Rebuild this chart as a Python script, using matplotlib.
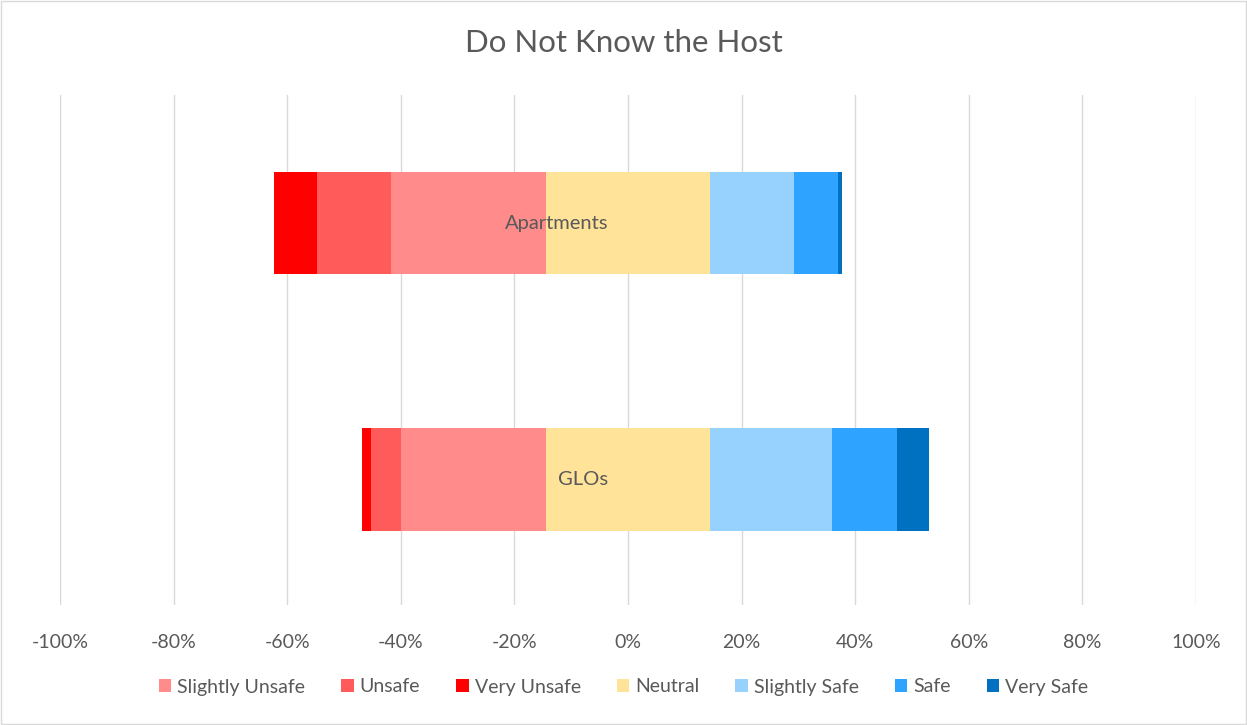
import numpy as np
import matplotlib.pyplot as plt

categories = ["GLOs", "Apartments"]
series = ["Slightly Unsafe", "Unsafe", "Very Unsafe", "Neutral",
          "Slightly Safe", "Safe", "Very Safe"]
colors = ["#FF8B8B", "#FF5B5B", "#FF0000", "#FFE399",
          "#97D2FF", "#2EA3FF", "#0070C0"]

# percentages per category (GLOs, Apartments)
slightly_unsafe = [25.5, 27.3]
unsafe = [5.3, 13.0]
very_unsafe = [1.6, 7.6]
neutral = [28.9, 28.9]
slightly_safe = [21.5, 14.8]
safe = [11.4, 7.7]
very_safe = [5.6, 0.7]

plt.rcParams['font.family'] = ['Lato', 'DejaVu Sans']
text_color = "#595959"

fig = plt.figure(figsize=(12.47, 7.25), dpi=100)
ax = fig.add_axes([60 / 1247, 1 - 605 / 725, 1136 / 1247, 510 / 725])

y = np.arange(len(categories))
h = 0.4
neutral_arr = np.array(neutral)

# negative side, stacked outward from the neutral half
left = -neutral_arr / 2
for name, vals, col in [("Slightly Unsafe", slightly_unsafe, colors[0]),
                        ("Unsafe", unsafe, colors[1]),
                        ("Very Unsafe", very_unsafe, colors[2])]:
    vals = np.array(vals)
    left = left - vals
    ax.barh(y, vals, left=left, height=h, color=col, label=name, zorder=2)

ax.barh(y, neutral_arr, left=-neutral_arr / 2, height=h, color=colors[3],
        label="Neutral", zorder=2)

left = neutral_arr / 2
for name, vals, col in [("Slightly Safe", slightly_safe, colors[4]),
                        ("Safe", safe, colors[5]),
                        ("Very Safe", very_safe, colors[6])]:
    vals = np.array(vals)
    ax.barh(y, vals, left=left, height=h, color=col, label=name, zorder=2)
    left = left + vals

for yi, cat in zip(y, categories):
    ax.text(-3.5, yi, cat, ha='right', va='center', fontsize=14.5,
            color=text_color, zorder=3)

ax.set_xlim(-100, 100)
ax.set_ylim(-0.49, 1.5)
ax.set_xticks(np.arange(-100, 101, 20))
ax.set_xticklabels([f"{v}%" for v in range(-100, 101, 20)],
                   fontsize=14, color=text_color)
ax.tick_params(axis='x', length=0, pad=21)
ax.set_yticks([])
ax.grid(axis='x', color='#D9D9D9', linewidth=1, zorder=0)
for s in ax.spines.values():
    s.set_visible(False)

fig.text(0.5, 1 - 43 / 725, "Do Not Know the Host", ha='center', va='center',
         fontsize=22.5, color=text_color)

handles, labels = ax.get_legend_handles_labels()
fig.legend(handles, labels, loc='center', bbox_to_anchor=(0.5, 1 - 687 / 725),
           ncol=7, frameon=False, fontsize=14, labelcolor=text_color,
           handlelength=0.65, handleheight=0.65, handletextpad=0.3,
           columnspacing=1.85)

border = plt.Rectangle((0.001, 0.001), 0.998, 0.998, transform=fig.transFigure,
                       fill=False, edgecolor='#D9D9D9', linewidth=1)
fig.patches.append(border)

fig.savefig("out.png", dpi=100)
